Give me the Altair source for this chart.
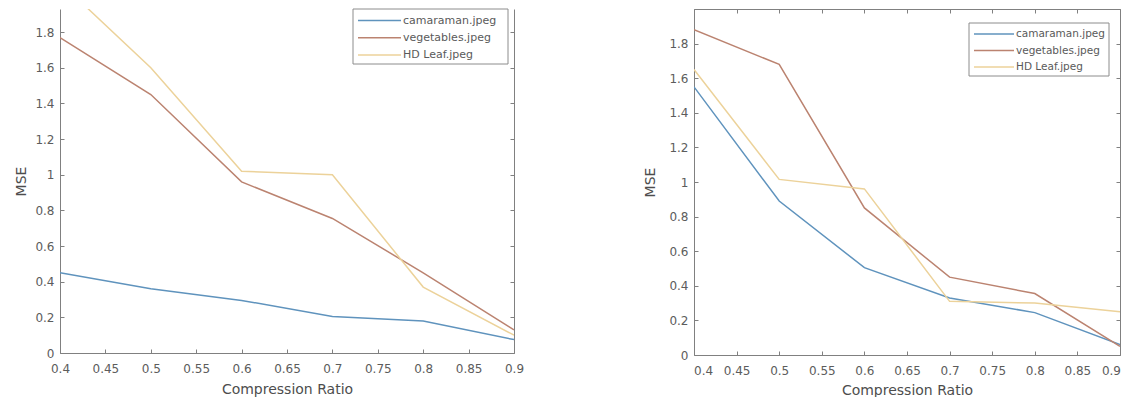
import altair as alt
import pandas as pd

# ---------------- data ----------------
ratios = [0.4, 0.5, 0.6, 0.7, 0.8, 0.9]
series_names = ["camaraman.jpeg", "vegetables.jpeg", "HD Leaf.jpeg"]
series_colors = ["#5f93bd", "#bb8370", "#ecd29a"]

left_camaraman = [0.45, 0.36, 0.295, 0.205, 0.18, 0.075]
left_vegetables = [1.77, 1.45, 0.96, 0.755, 0.45, 0.13]
left_hdleaf = [2.08, 1.60, 1.02, 1.00, 0.37, 0.10]

right_camaraman = [1.55, 0.89, 0.505, 0.33, 0.245, 0.06]
right_vegetables = [1.88, 1.68, 0.85, 0.45, 0.355, 0.05]
right_hdleaf = [1.65, 1.015, 0.96, 0.31, 0.30, 0.25]

x_tick_values = [0.4, 0.45, 0.5, 0.55, 0.6, 0.65, 0.7, 0.75, 0.8, 0.85, 0.9]
left_y_label_ticks = [0, 0.2, 0.4, 0.6, 0.8, 1.0, 1.2, 1.4, 1.6, 1.8]
right_y_label_ticks = [0, 0.2, 0.4, 0.6, 0.8, 1.0, 1.2, 1.4, 1.6, 1.8]
right_y_all_ticks = [0, 0.2, 0.4, 0.6, 0.8, 1.0, 1.2, 1.4, 1.6, 1.8, 2.0]

x_title = "Compression Ratio"
y_title = "MSE"

FONT = "DejaVu Sans"
AXIS_GRAY = "#808080"


def build_panel(values_by_series, y_top, y_label_ticks, y_all_ticks, width, height,
                has_top_border, label_pad_x, title_pad_x, title_pad_y, flush, lg):
    rows = []
    for name, vals in zip(series_names, values_by_series):
        for r, v in zip(ratios, vals):
            rows.append({"ratio": r, "mse": v, "series": name})
    df = pd.DataFrame(rows)

    xs = alt.Scale(domain=[0.4, 0.9], nice=False, zero=False)
    ys = alt.Scale(domain=[0, y_top], nice=False, zero=False)
    color = alt.Color("series:N",
                      scale=alt.Scale(domain=series_names, range=series_colors),
                      legend=None)

    if flush:
        x_axis = alt.Axis(orient="bottom", values=x_tick_values, format="~g",
                          title=x_title, tickSize=0, labelPadding=label_pad_x,
                          titlePadding=title_pad_x, labelFlush=True,
                          labelFlushOffset=0.5)
    else:
        x_axis = alt.Axis(orient="bottom", values=x_tick_values, format="~g",
                          title=x_title, tickSize=0, labelPadding=label_pad_x,
                          titlePadding=title_pad_x, labelFlush=False)

    lines = alt.Chart(df).mark_line(clip=True, strokeWidth=1.5).encode(
        x=alt.X("ratio:Q", scale=xs, axis=x_axis),
        y=alt.Y("mse:Q", scale=ys,
                axis=alt.Axis(orient="left", values=y_label_ticks, format="~g",
                              title=y_title, tickSize=0, labelPadding=6,
                              titlePadding=title_pad_y, labelFlush=False)),
        color=color,
    )

    # inward ticks along the bottom and left edges
    inner1 = alt.Chart(df).mark_point(opacity=0, clip=True).encode(
        x=alt.X("ratio:Q", scale=xs,
                axis=alt.Axis(orient="top", offset=-height, values=x_tick_values,
                              labels=False, domain=False, tickSize=4, title=None)),
        y=alt.Y("mse:Q", scale=ys,
                axis=alt.Axis(orient="right", offset=-width, values=y_all_ticks,
                              labels=False, domain=False, tickSize=4, title=None)),
    )

    # right border (and top border for the second panel) with inward ticks
    if has_top_border:
        top_axis = alt.Axis(orient="bottom", offset=-height, values=x_tick_values,
                            labels=False, domain=True, tickSize=4, title=None)
        x_enc = alt.X("ratio:Q", scale=xs, axis=top_axis)
    else:
        x_enc = alt.X("ratio:Q", scale=xs, axis=None)
    inner2 = alt.Chart(df).mark_point(opacity=0, clip=True).encode(
        x=x_enc,
        y=alt.Y("mse:Q", scale=ys,
                axis=alt.Axis(orient="left", offset=-width, values=y_all_ticks,
                              labels=False, domain=True, tickSize=4, title=None)),
    )

    layers = [lines, inner1, inner2]

    box = alt.Chart(alt.Data(values=[{"k": 1}])).mark_rect(
        fill="white", stroke="#8c8c8c", strokeWidth=1
    ).encode(x=alt.value(lg["x0"]), x2=alt.value(lg["x1"]),
             y=alt.value(lg["y0"]), y2=alt.value(lg["y1"]))
    layers.append(box)

    for i, (name, colr) in enumerate(zip(series_names, series_colors)):
        yy = lg["row0"] + i * lg["dy"]
        layers.append(
            alt.Chart(alt.Data(values=[{"label": name}])).mark_rule(
                color=colr, strokeWidth=1.5
            ).encode(x=alt.value(lg["lx0"]), x2=alt.value(lg["lx1"]), y=alt.value(yy))
        )
        layers.append(
            alt.Chart(alt.Data(values=[{"label": name}])).mark_text(
                align="left", baseline="middle", font=FONT,
                fontSize=lg["fs"], color="#5a5a5a"
            ).encode(x=alt.value(lg["tx"]), y=alt.value(yy), text="label:N")
        )

    return alt.layer(*layers).resolve_axis(x="independent", y="independent").properties(
        width=width, height=height)


left = build_panel(
    [left_camaraman, left_vegetables, left_hdleaf], 1.93,
    left_y_label_ticks, left_y_label_ticks, 454, 344, False,
    label_pad_x=10, title_pad_x=8, title_pad_y=6, flush=False,
    lg={"x0": 293, "x1": 448, "y0": 0, "y1": 55, "row0": 11.5, "dy": 17.3,
        "lx0": 298, "lx1": 341, "tx": 343, "fs": 11},
)

right = build_panel(
    [right_camaraman, right_vegetables, right_hdleaf], 2.0,
    right_y_label_ticks, right_y_all_ticks, 426, 346, True,
    label_pad_x=10, title_pad_x=7, title_pad_y=11, flush=True,
    lg={"x0": 275, "x1": 415, "y0": 14, "y1": 67, "row0": 25, "dy": 16.5,
        "lx0": 280, "lx1": 320, "tx": 322, "fs": 10.5},
)

chart = alt.hconcat(left, right, spacing=119).properties(
    padding={"left": 6, "top": 0, "right": 0, "bottom": 0},
    background="white",
).configure_view(strokeWidth=0).configure_axis(
    labelFont=FONT, titleFont=FONT, labelFontSize=12, titleFontSize=14,
    labelColor="#5c5c5c", titleColor="#4d4d4d", titleFontWeight="normal",
    domainColor=AXIS_GRAY, tickColor=AXIS_GRAY, grid=False,
)

chart.save("out.html", embed_options={"renderer": "svg", "actions": False})
